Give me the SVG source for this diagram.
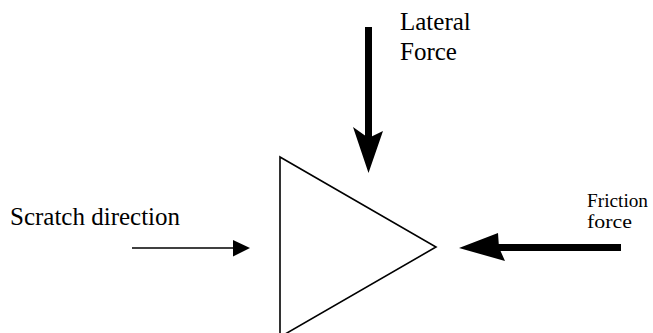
<svg xmlns="http://www.w3.org/2000/svg" width="653" height="333" viewBox="0 0 653 333">
<style>
text{font-family:"Liberation Serif","Times New Roman",serif;font-size:25px;fill:#000}
.small{font-size:19.5px}
.thin{stroke:#000;stroke-width:1.6;fill:none}
.thick{stroke:#000;stroke-width:7;fill:none}
.head{fill:#000;stroke:none}
</style>
<rect width="653" height="333" fill="#fff"/>
<g id="tool">
<polygon points="280,157 436,247 280,337" fill="#fff" stroke="#000" stroke-width="1.6"/>
</g>
<g id="lateral-label">
<text x="400" y="30">Lateral</text>
<text x="400" y="60">Force</text>
</g>
<g id="scratch-label">
<text x="10" y="225">Scratch direction</text>
</g>
<g id="friction-label">
<text class="small" x="587" y="207" textLength="61" lengthAdjust="spacingAndGlyphs">Friction</text>
<text class="small" x="587" y="228" textLength="45" lengthAdjust="spacingAndGlyphs">force</text>
</g>
<g id="connectors">
<line class="thick" x1="368.5" y1="27" x2="368.5" y2="138"/>
<path class="head" d="M353,127 L368.5,138 L383,131 L368.5,173 Z"/>
<line class="thin" x1="132" y1="248" x2="236" y2="248"/>
<polygon class="head" points="233,240 250,248 233,256.5"/>
<line class="thick" x1="496" y1="247.5" x2="621" y2="247.5"/>
<path class="head" d="M498,233 L499,247.5 L505,261 L459,248 Z"/>
</g>
</svg>
